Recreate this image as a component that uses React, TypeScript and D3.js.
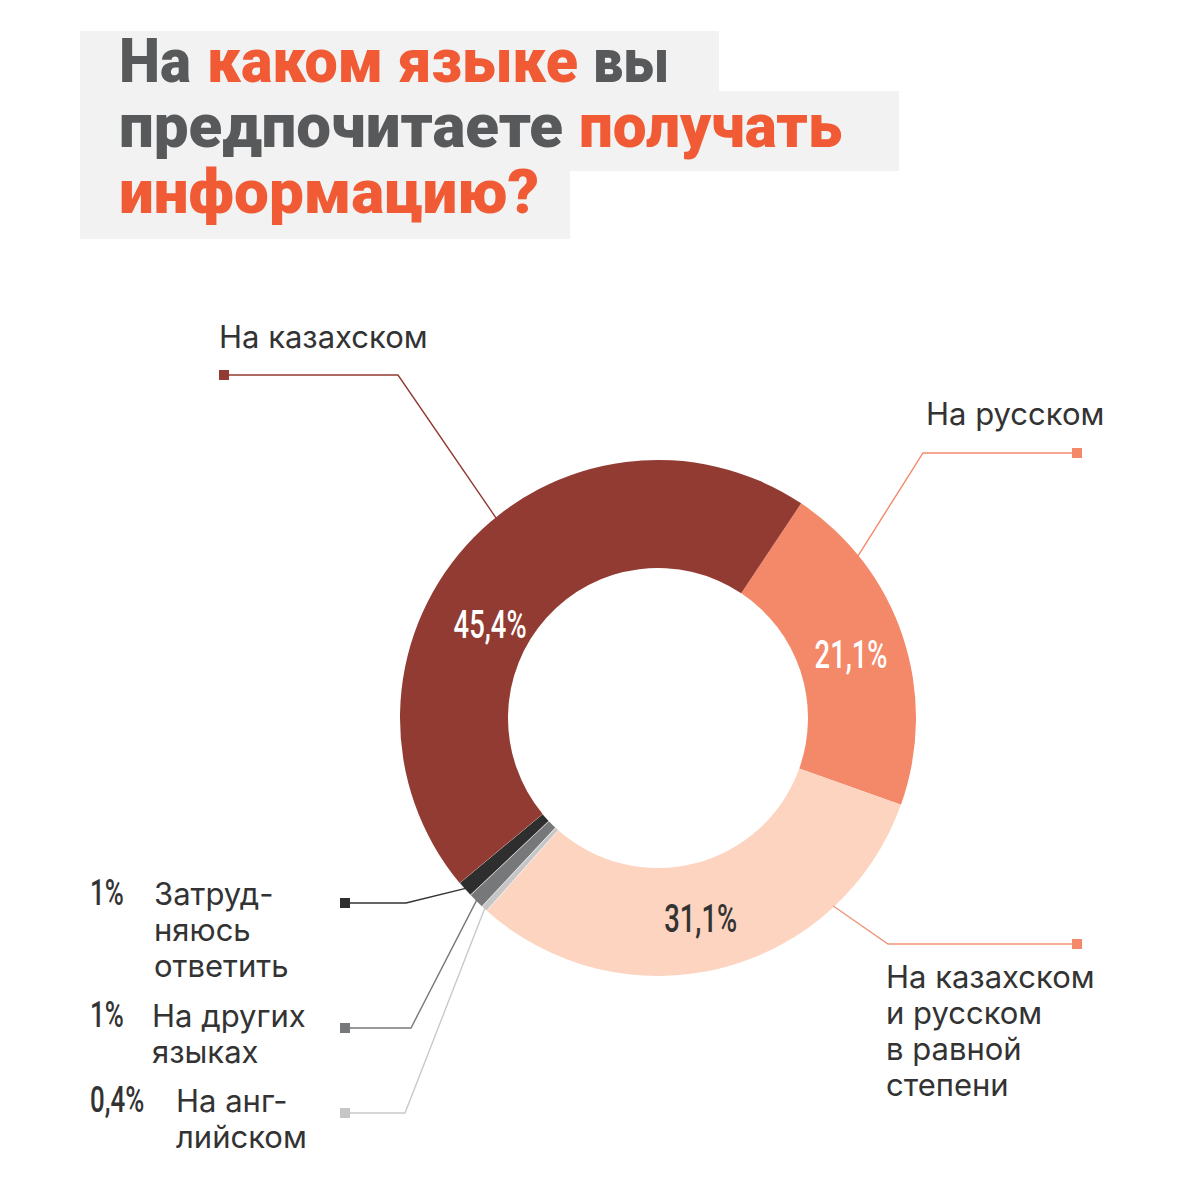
import { useEffect, useRef } from 'react'
import * as d3 from 'd3'

// answer shares, in the order they run clockwise from the top-right
const categories = [
  'На русском',
  'На казахском и русском в равной степени',
  'На английском',
  'На других языках',
  'Затрудняюсь ответить',
  'На казахском',
]
const shares = [21.1, 31.1, 0.4, 1, 1, 45.4]
const shareLabels = ['21,1%', '31,1%', '0,4%', '1%', '1%', '45,4%']
const sliceColors = ['#f4896a', '#fdd4c0', '#c6c6c6', '#77787a', '#2e2e2e', '#923b32']

// title words: text, accent flag, line, left edge, width
const titleWords = [
  { t: 'На', hi: false, line: 0, x: 119, w: 72 },
  { t: 'каком языке', hi: true, line: 0, x: 207, w: 371 },
  { t: 'вы', hi: false, line: 0, x: 593, w: 76 },
  { t: 'предпочитаете', hi: false, line: 1, x: 119, w: 444 },
  { t: 'получать', hi: true, line: 1, x: 579, w: 263 },
  { t: 'информацию?', hi: true, line: 2, x: 119, w: 420 },
]

const W = 1200
const H = 1200
const cx = 658
const cy = 718
const outerR = 258
const innerR = 150
const deg = Math.PI / 180

// callout layout per slice: where the leader line leaves the ring, its elbow and end square
const callouts = [
  { anchor: 51, elbow: [923, 453], end: [1077, 453], line: '#f4896a', text: ['На русском'], tx: 926, ty: 425, side: 'top' },
  { anchor: 137, elbow: [888, 944], end: [1077, 944], line: '#ef9577', text: ['На казахском', 'и русском', 'в равной', 'степени'], tx: 886, ty: 988, side: 'below' },
  { anchor: null, elbow: [405, 1113], end: [345, 1113], line: '#c9c9c9', text: ['На анг-', 'лийском'], tx: 176, ty: 1112, px: 90, side: 'left' },
  { anchor: null, elbow: [411, 1028], end: [345, 1028], line: '#77787a', text: ['На других', 'языках'], tx: 152, ty: 1027, px: 90, side: 'left' },
  { anchor: null, elbow: [406, 903], end: [345, 903], line: '#333333', text: ['Затруд-', 'няюсь', 'ответить'], tx: 154, ty: 905, px: 90, side: 'left' },
  { anchor: 321, elbow: [398, 375], end: [224, 375], line: '#923b32', text: ['На казахском'], tx: 219, ty: 348, side: 'top' },
]

// in-ring value labels: angle nudge and radius for the three big slices
const ringLabels = [
  { i: 0, angle: 72, r: 203, fill: '#ffffff' },
  { i: 1, angle: 168, r: 205, fill: '#333333' },
  { i: 5, angle: 299, r: 192, fill: '#ffffff' },
]

export default function App() {
  const ref = useRef<SVGSVGElement>(null)

  useEffect(() => {
    if (!ref.current) return
    const svg = d3.select(ref.current)
    svg.selectAll('*').remove()

    // title plates
    const plate = '#f1f2f1'
    svg.append('rect').attr('x', 80).attr('y', 31).attr('width', 639).attr('height', 61).attr('fill', plate)
    svg.append('rect').attr('x', 80).attr('y', 91).attr('width', 819).attr('height', 80).attr('fill', plate)
    svg.append('rect').attr('x', 80).attr('y', 170).attr('width', 490).attr('height', 69).attr('fill', plate)

    const baselines = [82, 147, 213]
    titleWords.forEach(word => {
      svg.append('text')
        .attr('x', word.x)
        .attr('y', baselines[word.line])
        .attr('font-family', 'Roboto, Inter, sans-serif')
        .attr('font-weight', 900)
        .attr('font-size', 61)
        .attr('textLength', word.w)
        .attr('lengthAdjust', 'spacingAndGlyphs')
        .attr('fill', word.hi ? '#f05a35' : '#58595b')
        .text(word.t)
    })

    const pie = d3.pie<number>()
      .sort(null)
      .value(d => d)
      .startAngle(33.7 * deg)
      .endAngle(33.7 * deg + 2 * Math.PI)
    const arcs = pie(shares)

    const arc = d3.arc<d3.PieArcDatum<number>>()
      .innerRadius(innerR)
      .outerRadius(outerR)

    const g = svg.append('g').attr('transform', `translate(${cx},${cy})`)

    g.selectAll('path.slice')
      .data(arcs)
      .join('path')
      .attr('class', 'slice')
      .attr('d', arc)
      .attr('fill', (_, i) => sliceColors[i])
      .attr('stroke', (_, i) => (i >= 2 && i <= 4 ? '#ffffff' : 'none'))
      .attr('stroke-width', 0.6)

    const polar = (a: number, r: number) => [cx + r * Math.sin(a), cy - r * Math.cos(a)]

    // leader lines with end squares
    arcs.forEach((a, i) => {
      const c = callouts[i]
      const ang = c.anchor === null ? (a.startAngle + a.endAngle) / 2 : c.anchor * deg
      const p0 = polar(ang, outerR - 1)
      const pts: [number, number][] = [[p0[0], p0[1]], c.elbow as [number, number], c.end as [number, number]]
      svg.append('path')
        .attr('d', d3.line()(pts))
        .attr('fill', 'none')
        .attr('stroke', c.line)
        .attr('stroke-width', 1.4)
      svg.append('rect')
        .attr('x', c.end[0] - 5)
        .attr('y', c.end[1] - 5)
        .attr('width', 10)
        .attr('height', 10)
        .attr('fill', i === 1 ? '#f4896a' : sliceColors[i])
    })

    // category texts
    arcs.forEach((_, i) => {
      const c = callouts[i]
      const t = svg.append('text')
        .attr('x', c.tx)
        .attr('y', c.ty)
        .attr('font-family', 'Inter, Roboto, sans-serif')
        .attr('font-size', 31)
        .attr('fill', '#333333')
      c.text.forEach((line, li) => {
        t.append('tspan')
          .attr('x', c.tx)
          .attr('dy', li === 0 ? 0 : 36)
          .text(line)
      })
      if (c.side === 'left') {
        svg.append('text')
          .attr('transform', `translate(${c.px},${c.ty}) scale(0.7,1)`)
          .attr('font-family', 'Roboto, sans-serif')
          .attr('font-weight', 500)
          .attr('font-size', 37)
          .attr('fill', '#333333')
          .text(shareLabels[i])
      }
    })

    // values inside the ring
    ringLabels.forEach(l => {
      const [x, y] = polar(l.angle * deg, l.r)
      svg.append('text')
        .attr('transform', `translate(${x},${y + 13}) scale(0.72,1)`)
        .attr('text-anchor', 'middle')
        .attr('font-family', 'Roboto, sans-serif')
        .attr('font-weight', 500)
        .attr('font-size', 38)
        .attr('fill', l.fill)
        .text(shareLabels[l.i])
    })
  }, [])

  return (
    <svg
      ref={ref}
      width={W}
      height={H}
      viewBox={`0 0 ${W} ${H}`}
      style={{ position: 'absolute', left: 0, top: 0, background: '#ffffff' }}
    />
  )
}
